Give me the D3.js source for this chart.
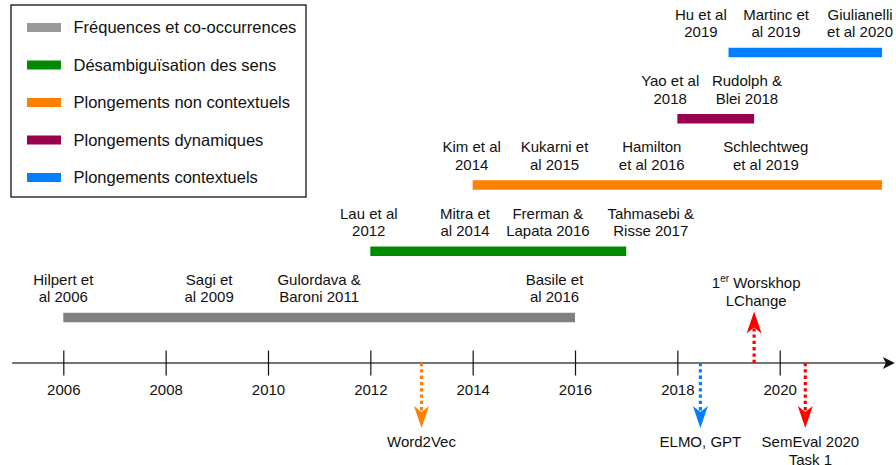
<!DOCTYPE html>
<html>
<head>
<meta charset="utf-8">
<script src="https://cdn.jsdelivr.net/npm/d3@7"></script>
<style>
  body { margin: 0; background: #fff; }
  svg text { font-family: "Liberation Sans", Arial, Helvetica, sans-serif; fill: #111; }
</style>
</head>
<body>
<svg width="896" height="465"></svg>
<script>
// categories of methods, bottom row first
var categories = ["Fréquences et co-occurrences", "Désambiguïsation des sens",
    "Plongements non contextuels", "Plongements dynamiques", "Plongements contextuels"];
var periodStart = [2006, 2012, 2014, 2018, 2019];
var periodEnd = [2016, 2017, 2022, 2019.5, 2022];

// works: [category index, position on the time axis, line 1, line 2]
var works = [
    [0, 2006.0, "Hilpert et", "al 2006"],
    [0, 2008.85, "Sagi et", "al 2009"],
    [0, 2011.0, "Gulordava &", "Baroni 2011"],
    [0, 2015.6, "Basile et", "al 2016"],
    [1, 2011.97, "Lau et al", "2012"],
    [1, 2013.85, "Mitra et", "al 2014"],
    [1, 2015.47, "Frerman &", "Lapata 2016"],
    [1, 2017.48, "Tahmasebi &", "Risse 2017"],
    [2, 2013.98, "Kim et al", "2014"],
    [2, 2015.6, "Kukarni et", "al 2015"],
    [2, 2017.5, "Hamilton", "et al 2016"],
    [2, 2019.73, "Schlechtweg", "et al 2019"],
    [3, 2017.86, "Yao et al", "2018"],
    [3, 2019.36, "Rudolph &", "Blei 2018"],
    [4, 2018.46, "Hu et al", "2019"],
    [4, 2019.93, "Martinc et", "al 2019"],
    [4, 2021.57, "Giulianelli", "et al 2020"]
];

// events marked by dotted arrows under / over the axis
var eventYear = [2013, 2018.45, 2019.5, 2020.5];
var eventLabelAt = [2013, 2018.45, 2019.54, 2020.6];
var eventUp = [false, false, true, false];
var eventLines = [["Word2Vec"], ["ELMO, GPT"], ["1^er Worskhop", "LChange"], ["SemEval 2020", "Task 1"]];

var years = [2006, 2008, 2010, 2012, 2014, 2016, 2018, 2020];
var axisFrom = 2005, axisTo = 2022.25;

var catColors = ["#808080", "#008a00", "#ff8000", "#99004d", "#007fff"];
var legendColors = ["#999999", "#008a00", "#ff8000", "#99004d", "#007fff"];
var eventColors = ["#ff8000", "#007fff", "#ff0000", "#ff0000"];

var svg = d3.select("svg");
var axisY = 363;

var x = d3.scaleLinear().domain([2006, 2020]).range([63.3, 779.7]);
var y = d3.scalePoint().domain(d3.range(categories.length)).range([317.5, 52.5]);

// ---- bars
svg.append("g").selectAll("rect")
    .data(categories)
    .enter().append("rect")
    .attr("x", function (d, i) { return x(periodStart[i]); })
    .attr("width", function (d, i) { return x(periodEnd[i]) - x(periodStart[i]); })
    .attr("y", function (d, i) { return y(i) - 4.75; })
    .attr("height", 9.5)
    .attr("fill", function (d, i) { return catColors[i]; });

// ---- work labels
var wl = svg.append("g").attr("font-size", "15px").attr("text-anchor", "middle")
    .selectAll("text")
    .data(works)
    .enter().append("text")
    .attr("x", function (d) { return x(d[1]); })
    .attr("y", function (d) { return y(d[0]) - 38 + 5.4; });
wl.append("tspan").text(function (d) { return d[2]; });
wl.append("tspan")
    .attr("x", function (d) { return x(d[1]); })
    .attr("dy", 17.5)
    .text(function (d) { return d[3]; });

// ---- time axis
svg.append("line")
    .attr("x1", x(axisFrom)).attr("x2", x(axisTo) - 8)
    .attr("y1", axisY).attr("y2", axisY)
    .attr("stroke", "#444").attr("stroke-width", 1.6);
svg.append("path")
    .attr("d", "M" + x(axisTo) + "," + axisY + "l-12,-6l3,6l-3,6z")
    .attr("fill", "#111");

var xAxis = d3.axisBottom(x).tickValues(years).tickFormat(d3.format("d"))
    .tickSize(25).tickPadding(9);
var ax = svg.append("g")
    .attr("transform", "translate(0," + (axisY - 12.5) + ")")
    .call(xAxis);
ax.select(".domain").remove();
ax.selectAll(".tick line").attr("stroke", "#111").attr("stroke-width", 1.2);
ax.selectAll(".tick text")
    .attr("font-size", "15px")
    .attr("font-family", "'Liberation Sans', Arial, sans-serif")
    .attr("fill", "#111");

// ---- events
var ev = svg.append("g").selectAll("g")
    .data(eventYear)
    .enter().append("g");
ev.each(function (d, i) {
    var g = d3.select(this);
    var sgn = eventUp[i] ? -1 : 1;
    var len = eventUp[i] ? 51.5 : 65;
    var cx = x(d);
    var tip = axisY + sgn * len;
    g.append("line")
        .attr("x1", cx).attr("x2", cx)
        .attr("y1", axisY).attr("y2", tip - sgn * 17)
        .attr("stroke", eventColors[i]).attr("stroke-width", 3.2)
        .attr("stroke-dasharray", "3.3,3");
    g.append("path")
        .attr("d", "M" + cx + "," + tip +
            "L" + (cx - 7.5) + "," + (tip - sgn * 22) +
            "L" + cx + "," + (tip - sgn * 16) +
            "L" + (cx + 7.5) + "," + (tip - sgn * 22) + "Z")
        .attr("fill", eventColors[i]);

    var lx = x(eventLabelAt[i]);
    var lines = eventLines[i];
    var firstY = eventUp[i] ? tip - 28.7 - (lines.length - 1) * 17.5 + 17.5 * 0 : axisY + 78.7;
    if (eventUp[i]) firstY = tip - 11 - 17.5 * lines.length + 17.5 - 17.5 + 17.5 * 0;
    if (eventUp[i]) firstY = 283;
    lines.forEach(function (line, k) {
        var t = g.append("text")
            .attr("x", lx)
            .attr("y", firstY + k * 17.5 + 5.4)
            .attr("font-size", "15px")
            .attr("text-anchor", "middle");
        var parts = line.split("^");
        if (parts.length > 1) {
            var rest = parts[1].split(" ");
            t.append("tspan").text(parts[0]);
            t.append("tspan").attr("font-size", "10px").attr("dy", -6).text(rest[0]);
            t.append("tspan").attr("dy", 6).text(" " + rest.slice(1).join(" "));
        } else {
            t.text(line);
        }
    });
});

// ---- legend
var legend = svg.append("g");
legend.append("rect")
    .attr("x", 11).attr("y", 5).attr("width", 295).attr("height", 192)
    .attr("fill", "#fff").attr("stroke", "#111").attr("stroke-width", 1.3);
var ly = d3.scalePoint().domain(d3.range(categories.length)).range([27.5, 177.5]);
var li = legend.selectAll("g.item")
    .data(categories)
    .enter().append("g")
    .attr("class", "item")
    .attr("transform", function (d, i) { return "translate(0," + ly(i) + ")"; });
li.append("rect")
    .attr("x", 27).attr("y", -4.5).attr("width", 34).attr("height", 9)
    .attr("fill", function (d, i) { return legendColors[i]; });
li.append("text")
    .attr("x", 73.5).attr("y", 5.9)
    .attr("font-size", "16.5px")
    .text(function (d) { return d; });
</script>
</body>
</html>
